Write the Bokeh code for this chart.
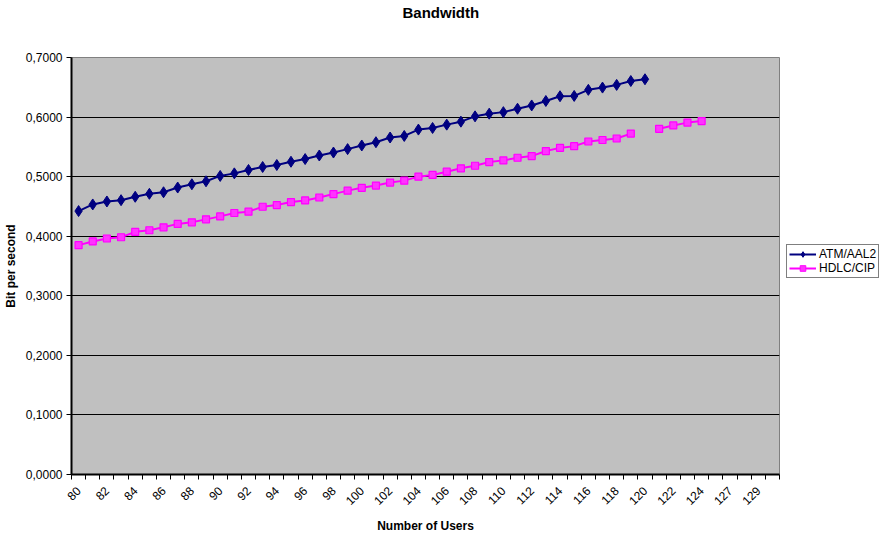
from bokeh.plotting import figure
from bokeh.layouts import row
from bokeh.models import (FixedTicker, CustomJSTickFormatter, Legend, LegendItem,
                          Title, Range1d, ColumnDataSource)
from bokeh.embed import file_html
from bokeh.resources import INLINE
import math

# ---- data ----
users = [str(u) for u in range(80, 125)] + ["125", "127", "128", "129", "130"]

atm_aal2 = [0.4422, 0.4533, 0.4583, 0.4605, 0.4662, 0.4712, 0.4738, 0.4817, 0.4872, 0.4922,
            0.5012, 0.5055, 0.5112, 0.5162, 0.5195, 0.5250, 0.5295, 0.5355, 0.5405, 0.5462,
            0.5523, 0.5578, 0.5657, 0.5683, 0.5790, 0.5817, 0.5873, 0.5923, 0.6012, 0.6057,
            0.6083, 0.6140, 0.6195, 0.6270, 0.6350, 0.6355, 0.6457, 0.6495, 0.6540, 0.6605,
            0.6635]

hdlc_cip = [0.3850, 0.3912, 0.3962, 0.3983, 0.4073, 0.4100, 0.4150, 0.4207, 0.4233, 0.4283,
            0.4333, 0.4390, 0.4412, 0.4495, 0.4523, 0.4573, 0.4600, 0.4650, 0.4707, 0.4765,
            0.4812, 0.4850, 0.4900, 0.4933, 0.5000, 0.5028, 0.5083, 0.5140, 0.5183, 0.5245,
            0.5273, 0.5317, 0.5345, 0.5430, 0.5483, 0.5512, 0.5590, 0.5615, 0.5640, 0.5723,
            float("nan"), 0.5803, 0.5860, 0.5907, 0.5933]

series_names = ["ATM/AAL2", "HDLC/CIP"]
y_ticks = [0.0, 0.1, 0.2, 0.3, 0.4, 0.5, 0.6, 0.7]

FONT = "Liberation Sans"
ATM_COLOR = "#000080"
HDLC_COLOR = "#FF00FF"

atm_src = ColumnDataSource(dict(x=list(range(len(atm_aal2))), y=atm_aal2))
hdlc_src = ColumnDataSource(dict(x=list(range(len(hdlc_cip))), y=hdlc_cip))

p = figure(width=786, height=536, output_backend="svg", toolbar_location=None,
           x_range=Range1d(-0.5, len(users) - 0.5), y_range=Range1d(0, 0.7),
           min_border_left=71, min_border_right=7, min_border_top=57, min_border_bottom=61)

p.background_fill_color = "#C0C0C0"
p.border_fill_color = "white"
p.outline_line_color = "#808080"
p.outline_line_width = 1

# title: spacer (closest to frame) then the real title above it
p.add_layout(Title(text=" ", text_font_size="10px", standoff=20), "above")
p.add_layout(Title(text="Bandwidth", text_font=FONT, text_font_size="15px",
                   text_font_style="bold", text_color="black", align="left",
                   offset=331, standoff=4, vertical_align="top"), "above")

# grid
p.xgrid.grid_line_color = None
p.ygrid.grid_line_color = "black"
p.ygrid.grid_line_width = 1
p.ygrid.ticker = FixedTicker(ticks=y_ticks)

# x axis
even = list(range(0, len(users), 2))
p.xaxis.ticker = FixedTicker(ticks=even, minor_ticks=[i - 0.5 for i in range(len(users) + 1)])
p.xaxis.major_label_overrides = {i: users[i] for i in even}
p.xaxis.major_tick_line_color = None
p.xaxis.major_tick_out = 5
p.xaxis.minor_tick_out = 5
p.xaxis.minor_tick_in = 0
p.xaxis.minor_tick_line_color = "black"
p.xaxis.major_label_orientation = math.pi / 4
p.xaxis.major_label_standoff = 9
p.xaxis.axis_label = "Number of Users"
p.xaxis.axis_label_standoff = 7

# y axis
p.yaxis.ticker = FixedTicker(ticks=y_ticks)
p.yaxis.formatter = CustomJSTickFormatter(code="return tick.toFixed(4).replace('.', ',');")
p.yaxis.major_tick_out = 5
p.yaxis.major_tick_in = 0
p.yaxis.minor_tick_line_color = None
p.yaxis.major_label_standoff = 4
p.yaxis.axis_label = "Bit per second"
p.yaxis.axis_label_standoff = 5
p.yaxis.major_tick_line_color = "black"

for ax in (p.xaxis[0], p.yaxis[0]):
    ax.axis_line_color = "black"
    ax.axis_line_width = 2
    ax.major_label_text_font = FONT
    ax.major_label_text_font_size = "12px"
    ax.major_label_text_color = "black"
    ax.axis_label_text_font = FONT
    ax.axis_label_text_font_size = "12px"
    ax.axis_label_text_font_style = "bold"
    ax.axis_label_text_color = "black"

# series
p.line("x", "y", source=atm_src, line_color=ATM_COLOR, line_width=2)
p.scatter("x", "y", source=atm_src, marker="diamond", size=11,
          fill_color=ATM_COLOR, line_color=ATM_COLOR)
p.line("x", "y", source=hdlc_src, line_color=HDLC_COLOR, line_width=2)
p.scatter("x", "y", source=hdlc_src, marker="square", size=7,
          fill_color="#FF33FF", line_color=HDLC_COLOR, line_width=1.2)

# ---- legend panel on the right (separate small figure; its data view is
# scrolled away from the series so only the legend swatches show) ----
lg = figure(width=93, height=536, output_backend="svg", toolbar_location=None,
            x_range=Range1d(-200, -199), y_range=Range1d(-200, -199),
            x_axis_location=None, y_axis_location=None, min_border=0)
lg.grid.visible = False
lg.outline_line_color = None
lg.background_fill_color = "white"
lg.border_fill_color = "white"

k1 = lg.line("x", "y", source=atm_src, line_color=ATM_COLOR, line_width=2)
s1 = lg.scatter("x", "y", source=atm_src, marker="diamond", size=9,
                fill_color=ATM_COLOR, line_color=ATM_COLOR)
k2 = lg.line("x", "y", source=hdlc_src, line_color=HDLC_COLOR, line_width=2)
s2 = lg.scatter("x", "y", source=hdlc_src, marker="square", size=7,
                fill_color="#FF33FF", line_color=HDLC_COLOR)

legend = Legend(items=[LegendItem(label=series_names[0], renderers=[k1, s1]),
                       LegendItem(label=series_names[1], renderers=[k2, s2])],
                location=(0, 196), orientation="vertical")
legend.border_line_color = "black"
legend.border_line_width = 1
legend.background_fill_color = "white"
legend.background_fill_alpha = 1
legend.label_text_font = FONT
legend.label_text_font_size = "12px"
legend.label_text_color = "black"
legend.label_height = 14
legend.glyph_height = 14
legend.glyph_width = 27
legend.label_standoff = 3
legend.spacing = 0
legend.padding = 2
legend.margin = 0
lg.add_layout(legend, "center")

layout = row(p, lg)
open("out.html", "w").write(file_html(layout, INLINE))
